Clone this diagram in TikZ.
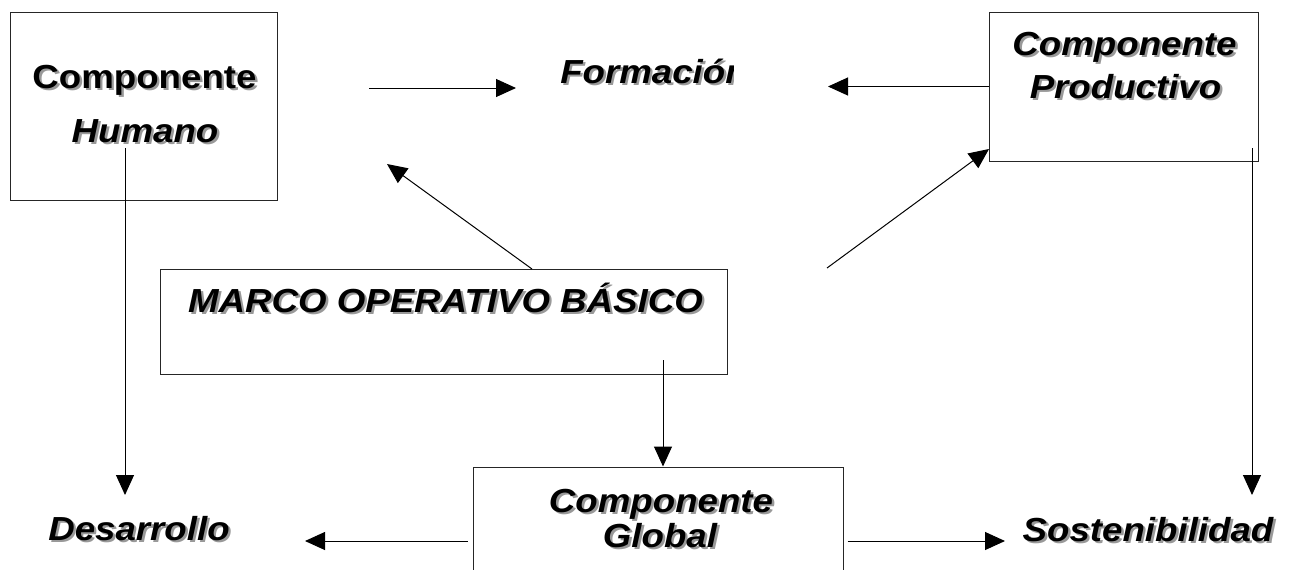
\documentclass[tikz,border=0pt]{standalone}
\usepackage{fontspec}
\setmainfont{Liberation Sans}[FakeStretch=1.1]
\usetikzlibrary{arrows.meta}

\definecolor{sombra}{gray}{0.6}
\newcommand{\sombreado}[1]{\makebox[0pt][l]{\hspace{1.8pt}\raisebox{-1.8pt}{\color{sombra}#1}}#1}

\begin{document}
\begin{tikzpicture}[x=0.75pt,y=0.75pt,yscale=-1,xscale=1,
  caja/.style={draw=black!85, line width=0.75pt, inner sep=0pt},
  texto/.style={inner sep=0pt, anchor=base, font=\fontsize{25}{30}\selectfont\bfseries\itshape},
  flecha/.style={line width=0.75pt, -{Triangle[length=15pt,width=13.5pt]}}]
%set diagram left start at 0, and has height of 569
\clip (0,0) rectangle (1295,569);

%Shape: Rectangle [humano]
\node [caja, minimum width=200.25pt, minimum height=141pt] (humano) at (143.5,106) {};
%Shape: Rectangle [productivo]
\node [caja, minimum width=201.75pt, minimum height=111.75pt] (prod) at (1123.5,86.5) {};
%Shape: Rectangle [marco]
\node [caja, minimum width=424.9pt, minimum height=78.75pt] (marco) at (443.75,321.5) {};
%Shape: Rectangle [global]
\node [caja, minimum width=277.5pt, minimum height=111pt] (global) at (658,541) {};

% Text Node
\node [texto, font=\fontsize{25}{30}\selectfont\bfseries] (humanoA) at (144.5,88) {\sombreado{Componente}};
% Text Node
\node [texto] (humanoB) at (145,142) {\sombreado{Humano}};
% Text Node
\begin{scope}
\clip (0,0) rectangle (733,569);
\node [texto, anchor=base west] (formacion) at (560,83) {\sombreado{Formación}};
\end{scope}
% Text Node
\node [texto] (prodA) at (1124.5,55) {\sombreado{Componente}};
% Text Node
\node [texto] (prodB) at (1125.5,98) {\sombreado{Productivo}};
% Text Node
\node [texto] (marcoT) at (445.5,312) {\sombreado{MARCO OPERATIVO BÁSICO}};
% Text Node
\node [texto] (globalA) at (661,512) {\sombreado{Componente}};
% Text Node
\node [texto] (globalB) at (660,547) {\sombreado{Global}};
% Text Node
\node [texto] (desarrollo) at (139,540) {\sombreado{Desarrollo}};
% Text Node
\node [texto] (sostenib) at (1148,541) {\sombreado{Sostenibilidad}};

%Free ends of the connectors
\coordinate (h1) at (369,88);
\coordinate (h2) at (516,88);
\coordinate (f2) at (828,86.5);
\coordinate (hu1) at (125,148);
\coordinate (hu2) at (125,495);
\coordinate (pr1) at (1252,148);
\coordinate (pr2) at (1252,495);
\coordinate (m1) at (532,269);
\coordinate (m2) at (387,164);
\coordinate (m3) at (827,268);
\coordinate (m4) at (989,149);
\coordinate (m5) at (663,360);
\coordinate (d1) at (305,541);
\coordinate (s1) at (1005,541);

%Straight Lines
\draw [flecha] (h1) -- (h2);
\draw [flecha] (prod.west) -- (f2);
\draw [flecha] (hu1) -- (hu2);
\draw [flecha] (pr1) -- (pr2);
\draw [flecha] (m1) -- (m2);
\draw [flecha] (m3) -- (m4);
\draw [flecha] (m5) -- (m5 |- global.north);
\draw [flecha, shorten <=3.75pt] (global.west) -- (d1);
\draw [flecha, shorten <=3pt] (global.east) -- (s1);

\end{tikzpicture}
\end{document}
